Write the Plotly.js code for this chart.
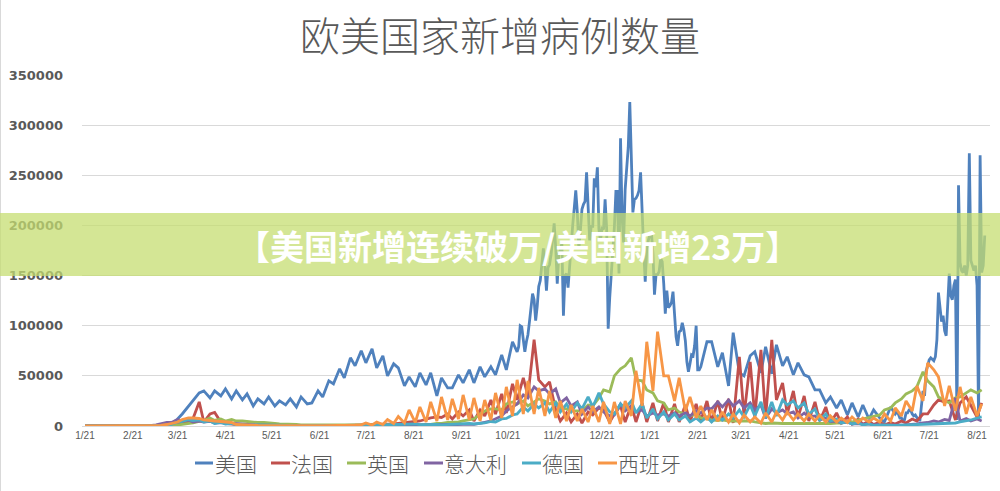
<!DOCTYPE html>
<html>
<head>
<meta charset="utf-8">
<script src="https://cdn.plot.ly/plotly-3.0.1.min.js"></script>
<style>
  html, body { margin: 0; padding: 0; background: #ffffff; }
  #chart { width: 1000px; height: 491px; }
</style>
</head>
<body>
<div id="chart"></div>
<script>
// Daily new cases. Most series are sampled twice a week (Tuesday and the following Saturday)
// from 2020-01-21; the United States has daily values in its two most volatile stretches.
const seriesNames = ['美国', '法国', '英国', '意大利', '德国', '西班牙'];
const seriesColors = ['#4F81BD', '#C0504D', '#9BBB59', '#8064A2', '#4BACC6', '#F79646'];

const tickDates = ['2020-01-21', '2020-02-21', '2020-03-21', '2020-04-21', '2020-05-21', '2020-06-21',
  '2020-07-21', '2020-08-21', '2020-09-21', '2020-10-21', '2020-11-21', '2020-12-21',
  '2021-01-21', '2021-02-21', '2021-03-21', '2021-04-21', '2021-05-21', '2021-06-21',
  '2021-07-21', '2021-08-21'];
const tickLabels = ['1/21', '2/21', '3/21', '4/21', '5/21', '6/21', '7/21', '8/21', '9/21', '10/21',
  '11/21', '12/21', '1/21', '2/21', '3/21', '4/21', '5/21', '6/21', '7/21', '8/21'];

// United States, twice weekly 2020-01-21 .. 2020-10-24
const usSpring2020 = [
  0, 0, 0, 0, 0, 0, 0, 0, 0, 0, 0, 0, 20, 60, 300, 700, 2000, 7000, 12000, 20000,
  26000, 33000, 35000, 28000, 35000, 30000, 37000, 27000, 35000, 26000, 32000, 20000, 27000, 22000, 29000, 20000, 25000, 21000, 27000, 19000,
  29000, 22000, 23000, 35000, 29000, 45000, 42000, 57000, 48000, 68000, 60000, 75000, 63000, 77000, 58000, 70000, 50000, 62000, 58000, 40000,
  49000, 39000, 53000, 41000, 53000, 30000, 48000, 38000, 38000, 51000, 43000, 56000, 43000, 59000, 49000, 59000, 51000, 71000, 56000, 84000
];
// United States, daily 2020-10-27 .. 2021-02-22
const usWinter = [
  74000, 79000, 100000, 99000, 86000, 74000, 84000,
  91000, 104000, 121000, 132000, 126000, 105000, 119000,
  139000, 145000, 161000, 177000, 160000, 135000, 158000,
  161000, 171000, 187000, 202000, 178000, 142000, 172000,
  175000, 182000, 110000, 150000, 152000, 138000, 161000,
  180000, 200000, 217000, 235000, 213000, 177000, 195000,
  216000, 221000, 224000, 253000, 217000, 185000, 199000,
  199000, 247000, 238000, 258000, 196000, 185000, 197000,
  196000, 226000, 197000, 97000, 128000, 152000, 174000,
  198000, 234000, 234000, 152000, 287000, 209000, 183000,
  236000, 254000, 278000, 323000, 259000, 213000, 226000,
  227000, 230000, 235000, 253000, 202000, 176000, 144000,
  177000, 185000, 191000, 193000, 172000, 131000, 151000,
  151000, 154000, 167000, 164000, 142000, 112000, 135000,
  118000, 120000, 123000, 134000, 105000, 89000, 80000,
  94000, 95000, 103000, 96000, 85000, 64000, 54000,
  62000, 71000, 70000, 80000, 100000, 56000, 56000
];
// United States, twice weekly 2021-02-23 .. 2021-06-26
const usSpring2021 = [
  59000, 84000, 84000, 59000, 73000, 40000,
  93000, 53000, 50000, 70000, 74000, 53000, 79000, 52000, 81000, 60000, 69000, 51000, 63000, 51000, 49000, 36000, 36000, 23000, 29000, 18000,
  26000, 11000, 23000, 9000, 21000, 7000, 16000, 8000, 4000, 19000
];
// United States, daily 2021-06-29 .. 2021-08-26
const usSummer = [
  12000, 14000, 12000, 8000, 8000, 5000, 6000,
  13000, 13000, 16000, 16000, 12000, 10000, 11000,
  9000, 6000, 6000, 20000, 35000, 30000, 55000,
  60000, 66000, 68000, 66000, 65000, 69000, 86000,
  133000, 115000, 104000, 110000, 95000, 90000, 129000,
  152000, 130000, 126000, 140000, 146000, 6000, 240000,
  163000, 155000, 153000, 160000, 150000, 160000, 272000,
  165000, 160000, 155000, 160000, 140000, 6000, 270000,
  153000, 160000, 190000
];

const france = [
  0, 0, 0, 0, 0, 0, 0, 0, 0, 0, 0, 0, 50, 200, 400, 800, 1100, 1800, 3000, 4500,
  7500, 24000, 4000, 12000, 13500, 4000, 2500, 1700, 1500, 1100, 1200, 700, 800, 500, 600, 400, 500, 500, 400, 600,
  500, 400, 500, 600, 600, 500, 500, 600, 600, 700, 700, 800, 1000, 1100, 1200, 1300, 1600, 2000, 2500, 3500,
  3500, 4500, 5000, 7000, 8000, 9000, 8500, 12000, 7000, 14000, 10000, 16000, 5000, 16000, 10000, 26000, 12000, 32000, 13000, 42000,
  26000, 48000, 30000, 86000, 46000, 39000, 44000, 16000, 5000, 13000, 4000, 12000, 3000, 14000, 11000, 18000, 16000, 4000, 12000, 20000,
  4000, 21000, 4000, 23000, 4000, 23000, 5000, 23000, 4000, 22000, 4000, 21000, 4000, 22000, 5000, 25000, 4000, 25000, 5000, 27000,
  3000, 69000, 10000, 64000, 9000, 76000, 8000, 86000, 26000, 43000, 12000, 35000, 8000, 30000, 5000, 24000, 5000, 19000, 3000, 13000,
  3000, 9000, 2000, 7000, 1500, 5000, 1500, 4000, 1000, 3500, 2000, 5000, 3000, 7000, 5000, 12000, 12000, 21000, 26000, 24000,
  25000, 6000, 23000, 29000, 20000, 9000, 23000
];

const uk = [
  0, 0, 0, 0, 0, 0, 0, 0, 0, 0, 0, 0, 0, 0, 50, 150, 400, 1000, 1500, 2500,
  3000, 4500, 5500, 8000, 5500, 7000, 5000, 6500, 5000, 5000, 4500, 3500, 3500, 3500, 2800, 2500, 2000, 2000, 1800, 1500,
  1200, 1200, 1000, 1000, 900, 800, 700, 700, 600, 700, 600, 700, 700, 700, 800, 900, 900, 1000, 1100, 1000,
  1100, 1200, 1200, 1500, 1500, 2500, 2500, 3500, 3500, 4000, 5000, 6500, 7000, 12000, 15000, 17000, 17000, 16000, 22000, 24000,
  22000, 25000, 20000, 24000, 27000, 25000, 22000, 24000, 18000, 17000, 15000, 15000, 15000, 21000, 20000, 28000, 36000, 34000, 50000, 57000,
  60000, 68000, 46000, 45000, 36000, 33000, 25000, 23000, 16000, 18000, 14000, 12000, 10000, 12000, 8000, 7000, 6000, 5500, 6000, 5000,
  5000, 5000, 4500, 5000, 4000, 3000, 2500, 3000, 2500, 2500, 2500, 2500, 2000, 2000, 2000, 2500, 2500, 2000, 2500, 3000,
  3000, 4000, 4000, 6000, 7000, 8000, 9000, 11000, 16000, 18000, 23000, 27000, 32000, 35000, 39000, 54000, 45000, 39000, 29000, 26000,
  23000, 28000, 29000, 33000, 36000, 33000, 36000
];

const italy = [
  0, 0, 0, 0, 0, 0, 0, 0, 0, 0, 0, 0, 400, 1200, 2300, 3500, 3500, 6500, 5000, 6000,
  4000, 4800, 3800, 4700, 3000, 3500, 3000, 2500, 2000, 1900, 1200, 1100, 900, 900, 800, 700, 400, 500, 300, 300,
  300, 300, 200, 250, 200, 250, 200, 250, 200, 250, 200, 250, 200, 250, 250, 300, 300, 350, 450, 600,
  650, 1000, 1200, 1400, 1000, 1600, 1300, 1600, 1200, 1600, 1400, 1900, 1600, 2500, 3700, 5000, 7000, 10000, 15000, 19000,
  22000, 31000, 28000, 39000, 35000, 37000, 32000, 37000, 23000, 28000, 20000, 24000, 12000, 19000, 14000, 19000, 14000, 10000, 11000, 22000,
  15000, 20000, 14000, 16000, 10000, 13000, 11000, 12000, 10000, 13000, 10000, 13000, 10000, 15000, 13000, 18000, 17000, 24000, 19000, 26000,
  20000, 25000, 18000, 23000, 16000, 21000, 7700, 17000, 13000, 16000, 12000, 14000, 8000, 13000, 9000, 10000, 6000, 8000, 4500, 5000,
  3000, 4000, 2000, 2500, 1900, 2000, 1000, 1300, 500, 900, 700, 800, 1000, 1400, 2000, 3000, 3500, 5000, 4000, 6500,
  5500, 28000, 5000, 7500, 5000, 7000, 5000
];

const germany = [
  0, 0, 0, 0, 0, 0, 0, 0, 0, 0, 0, 0, 50, 300, 500, 900, 1500, 4000, 4500, 6300,
  5500, 6200, 4000, 5000, 2500, 3500, 2000, 2500, 1200, 1400, 800, 1000, 900, 600, 600, 600, 400, 500, 300, 400,
  300, 300, 600, 500, 500, 400, 400, 400, 400, 400, 400, 500, 500, 700, 600, 900, 800, 1100, 1200, 1500,
  1400, 2000, 1300, 1500, 1300, 1500, 1200, 1500, 1500, 2000, 1800, 2500, 2000, 2500, 3000, 4500, 4000, 7000, 7500, 11000,
  12000, 19000, 15000, 22000, 18000, 23000, 14000, 23000, 14000, 22000, 14000, 23000, 17000, 29000, 19000, 33000, 22000, 14000, 12000, 22000,
  18000, 25000, 13000, 22000, 8000, 17000, 7000, 14000, 6000, 12000, 6000, 10000, 4000, 8000, 4000, 9000, 4000, 10000, 6000, 12000,
  8000, 16000, 9000, 21000, 10000, 24000, 8000, 24000, 10000, 26000, 21000, 25000, 18000, 23000, 12000, 17000, 6000, 12000, 5000, 7000,
  3000, 4000, 2000, 3000, 1000, 2000, 600, 1000, 600, 800, 500, 800, 1000, 900, 1500, 1400, 2000, 1800, 2500, 2200,
  3000, 3000, 4000, 5000, 6000, 8000, 9000
];

const spain = [
  0, 0, 0, 0, 0, 0, 0, 0, 0, 0, 0, 0, 50, 150, 600, 1500, 2500, 4000, 6500, 8000,
  8000, 7500, 6000, 5000, 5000, 4500, 4000, 3500, 1500, 1500, 1000, 800, 600, 500, 400, 400, 300, 300, 300, 300,
  300, 300, 300, 300, 300, 300, 300, 300, 300, 600, 900, 1200, 3000, 1000, 4000, 1500, 6500, 2500, 9500, 3000,
  16000, 3500, 19000, 4000, 24000, 5000, 29000, 6000, 27000, 7000, 31000, 6000, 28000, 5000, 26000, 6000, 33000, 8000, 39000, 10000,
  46000, 12000, 45000, 12000, 38000, 10000, 35000, 8000, 25000, 5000, 21000, 5000, 17000, 4000, 20000, 4000, 24000, 2000, 24000, 2000,
  25000, 10000, 55000, 20000, 84000, 35000, 94000, 50000, 50000, 25000, 48000, 15000, 29000, 8000, 20000, 6000, 16000, 5000, 14000, 4000,
  12000, 3000, 11000, 4000, 9000, 3000, 13000, 4000, 14000, 6000, 14000, 6000, 12000, 5000, 12000, 5000, 11000, 4000, 10000, 4000,
  8000, 3500, 9000, 3500, 8000, 4000, 8000, 4000, 12000, 5000, 18000, 10000, 25000, 15000, 40000, 25000, 63000, 56000, 49000, 20000,
  40000, 15000, 39000, 12000, 29000, 10000, 22000
];

// ---- calendar helpers ----
const START_UTC = Date.UTC(2020, 0, 21);
const DAY_MS = 86400000;
const LAST_DAY = 583;            // 2021-08-26
const US_WINTER_FROM = 280;      // 2020-10-27
const US_SPRING_FROM = 399;      // 2021-02-23
const US_SUMMER_FROM = 525;      // 2021-06-29
function dayStamp(offset) {
  return new Date(START_UTC + offset * DAY_MS).toISOString().replace('T', ' ').slice(0, 19);
}
const twiceWeeklyDays = [];
for (let d = 0; d <= LAST_DAY; d += 7) {
  twiceWeeklyDays.push(d);
  if (d + 4 <= LAST_DAY) twiceWeeklyDays.push(d + 4);
}
const sampleDates = twiceWeeklyDays.map(dayStamp);

function dailyDays(from, count) {
  const out = [];
  for (let k = 0; k < count; k++) out.push(from + k);
  return out;
}
const usDays = twiceWeeklyDays.slice(0, usSpring2020.length)
  .concat(dailyDays(US_WINTER_FROM, usWinter.length))
  .concat(twiceWeeklyDays.filter(d => d >= US_SPRING_FROM).slice(0, usSpring2021.length))
  .concat(dailyDays(US_SUMMER_FROM, usSummer.length));
const usDates = usDays.map(dayStamp);
const usValues = usSpring2020.concat(usWinter, usSpring2021, usSummer);

const seriesValues = [usValues, france, uk, italy, germany, spain];
const traces = seriesNames.map((name, i) => {
  const ys = seriesValues[i];
  const xs = i === 0 ? usDates : sampleDates.slice(0, ys.length);
  return {
    type: 'scatter', mode: 'lines', name: name,
    x: xs, y: ys,
    line: { color: seriesColors[i], width: 2.8 },
    hoverinfo: 'skip'
  };
});

// ---- geometry helpers (pixel -> paper) ----
const PLOT_L = 82, PLOT_W = 908, PLOT_T = 75, PLOT_H = 351;
const px2x = p => (p - PLOT_L) / PLOT_W;
const py2y = p => (PLOT_T + PLOT_H - p) / PLOT_H;

const GREY = '#595959';
const shapes = [];
const annotations = [];

// legend drawn as short line swatches with labels underneath the plot
const legendItems = [
  { x0: 195, x1: 213, tx: 213 },
  { x0: 271, x1: 290, tx: 289 },
  { x0: 347, x1: 366, tx: 365 },
  { x0: 424, x1: 443, tx: 442 },
  { x0: 522, x1: 541, tx: 540 },
  { x0: 598, x1: 617, tx: 616 }
];
legendItems.forEach((it, i) => {
  shapes.push({
    type: 'line', xref: 'paper', yref: 'paper',
    x0: px2x(it.x0), x1: px2x(it.x1), y0: py2y(463), y1: py2y(463),
    line: { color: seriesColors[i], width: 3 }
  });
  annotations.push({
    xref: 'paper', yref: 'paper', x: px2x(it.tx), y: py2y(463),
    xanchor: 'left', yanchor: 'middle', showarrow: false,
    text: seriesNames[i],
    font: { family: 'Noto Sans CJK SC', size: 21, color: GREY, weight: 300 }
  });
});

// thin frame line on the left edge
shapes.push({
  type: 'line', xref: 'paper', yref: 'paper',
  x0: px2x(0.5), x1: px2x(0.5), y0: py2y(0), y1: py2y(491),
  line: { color: '#d9d9d9', width: 1 }
});

// headline banner across the plot
shapes.push({
  type: 'rect', xref: 'paper', yref: 'paper', layer: 'above',
  x0: px2x(0), x1: px2x(1000), y0: py2y(276), y1: py2y(213),
  fillcolor: 'rgba(197,221,112,0.74)', line: { width: 0 }
});
annotations.push({
  xref: 'paper', yref: 'paper', x: px2x(517), y: py2y(245),
  xanchor: 'center', yanchor: 'middle', showarrow: false,
  text: '【美国新增连续破万/美国新增23万】',
  font: { family: 'Noto Sans CJK SC', size: 34, color: '#ffffff', weight: 'bold' }
});

const layout = {
  width: 1000, height: 491,
  margin: { l: PLOT_L, r: 1000 - PLOT_L - PLOT_W, t: PLOT_T, b: 491 - PLOT_T - PLOT_H },
  paper_bgcolor: '#ffffff', plot_bgcolor: '#ffffff',
  showlegend: false,
  hovermode: false,
  title: {
    text: '欧美国家新增病例数量',
    font: { family: 'Noto Sans CJK SC', size: 40, color: GREY, weight: 300 },
    x: 0.5, xanchor: 'center', y: 1 - 37 / 491, yanchor: 'middle'
  },
  xaxis: {
    type: 'date',
    range: [dayStamp(-1.944), dayStamp(586.4)],
    tickmode: 'array', tickvals: tickDates, ticktext: tickLabels,
    showgrid: false, zeroline: false,
    showline: true, linecolor: '#d9d9d9', linewidth: 1,
    ticks: '',
    tickfont: { family: 'Liberation Sans', size: 10, color: GREY }
  },
  yaxis: {
    range: [0, 350000],
    tickmode: 'linear', tick0: 0, dtick: 50000, tickformat: 'd',
    showgrid: true, gridcolor: '#d9d9d9', gridwidth: 1,
    zeroline: false, showline: false, ticks: '',
    ticklabelstandoff: 18,
    tickfont: { family: 'DejaVu Sans', size: 13, color: GREY, weight: 'bold' }
  },
  shapes: shapes,
  annotations: annotations
};

Plotly.newPlot('chart', traces, layout, { staticPlot: true, displayModeBar: false });
</script>
</body>
</html>
